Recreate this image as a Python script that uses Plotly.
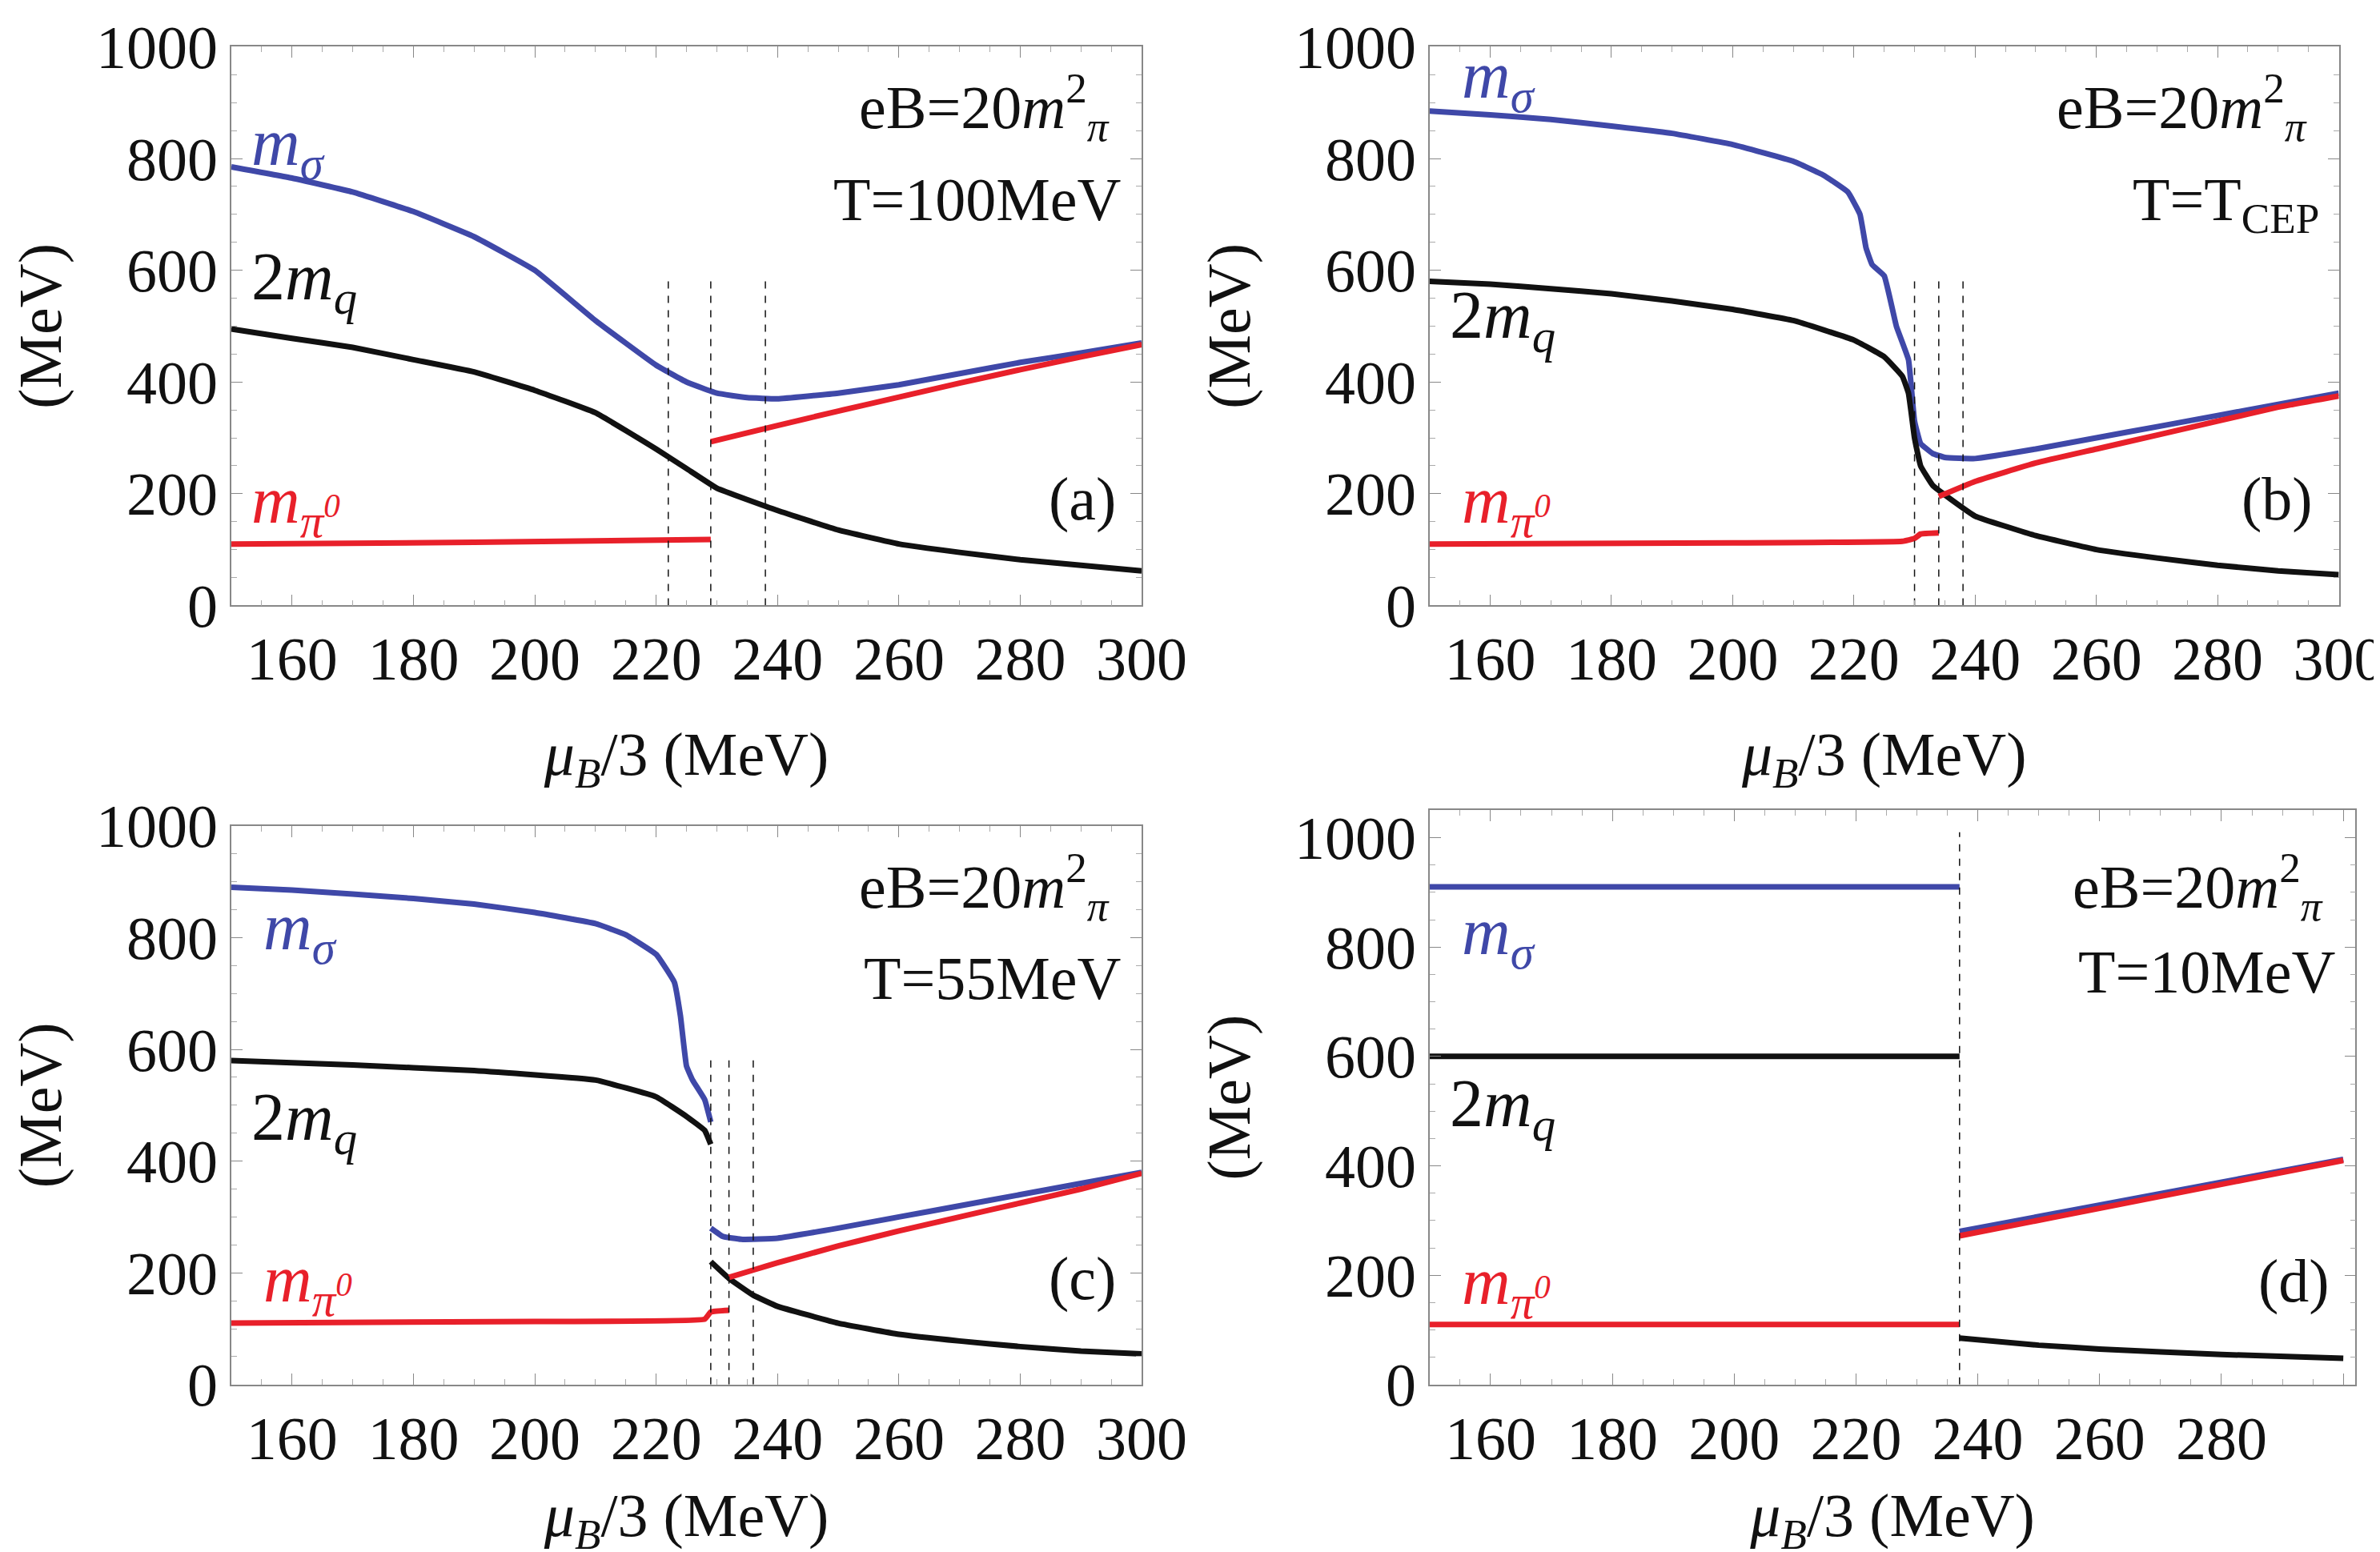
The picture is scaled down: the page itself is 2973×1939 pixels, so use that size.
import plotly.graph_objects as go

# panel (a) T=100MeV
a_sig_x = [150, 160, 170, 180, 190, 200, 210, 220, 225, 230, 235, 240, 250, 260, 270, 280, 290, 300]
a_sig_y = [785, 765, 740, 705, 660, 600, 510, 430, 400, 380, 372, 370, 380, 395, 415, 435, 452, 470]
a_q_x = [150, 160, 170, 180, 190, 200, 210, 220, 225, 230, 240, 250, 260, 270, 280, 290, 300]
a_q_y = [495, 478, 462, 440, 418, 385, 345, 280, 245, 210, 170, 135, 110, 95, 82, 72, 62]
a_pi1_x = [150, 190, 229]
a_pi1_y = [110, 113, 118]
a_pi2_x = [229, 240, 250, 260, 270, 280, 290, 300]
a_pi2_y = [293, 322, 348, 373, 398, 422, 445, 467]
a_dash = [222, 229, 238]

# panel (b) T=T_CEP
b_sig_x = [150, 160, 170, 180, 190, 200, 210, 215, 219, 221, 222, 223, 225, 227, 229, 230, 231, 233, 235, 240, 250, 260, 270, 280, 290, 300]
b_sig_y = [885, 878, 870, 858, 845, 825, 795, 770, 740, 700, 640, 610, 590, 500, 440, 330, 290, 272, 265, 263, 280, 300, 320, 340, 360, 380]
b_q_x = [150, 160, 170, 180, 190, 200, 210, 220, 225, 228, 229, 230, 231, 233, 236, 240, 250, 260, 270, 280, 290, 300]
b_q_y = [580, 575, 567, 558, 545, 530, 510, 475, 445, 410, 380, 300, 250, 215, 190, 160, 125, 100, 85, 72, 62, 55]
b_pi1_x = [150, 200, 228, 230, 231, 234]
b_pi1_y = [110, 112, 115, 120, 128, 130]
b_pi2_x = [234, 240, 250, 260, 270, 280, 290, 300]
b_pi2_y = [195, 222, 255, 280, 305, 330, 355, 375]
b_dash = [230, 234, 238]

# panel (c) T=55MeV
c_sig1_x = [150, 160, 170, 180, 190, 200, 210, 215, 220, 223, 224, 225, 226, 228, 229]
c_sig1_y = [890, 885, 878, 870, 860, 845, 825, 805, 770, 720, 660, 570, 545, 510, 470]
c_sig2_x = [229, 231, 234, 240, 250, 260, 270, 280, 290, 300]
c_sig2_y = [280, 265, 260, 262, 280, 300, 320, 340, 360, 380]
c_q1_x = [150, 170, 190, 210, 220, 225, 228, 229]
c_q1_y = [580, 572, 562, 545, 515, 480, 455, 430]
c_q2_x = [229, 232, 236, 240, 250, 260, 270, 280, 290, 300]
c_q2_y = [220, 190, 160, 140, 110, 90, 78, 68, 60, 55]
c_pi1_x = [150, 200, 228, 229, 232]
c_pi1_y = [110, 113, 117, 130, 133]
c_pi2_x = [232, 236, 240, 250, 260, 270, 280, 290, 300]
c_pi2_y = [192, 205, 218, 248, 275, 300, 325, 350, 378]
c_dash = [229, 232, 236]

# panel (d) T=10MeV
d_sig1_x = [150, 237]
d_sig1_y = [910, 910]
d_sig2_x = [237, 300]
d_sig2_y = [280, 412]
d_q1_x = [150, 237]
d_q1_y = [600, 600]
d_q2_x = [237, 250, 260, 280, 300]
d_q2_y = [85, 72, 65, 55, 48]
d_pi1_x = [150, 237]
d_pi1_y = [110, 110]
d_pi2_x = [237, 300]
d_pi2_y = [272, 410]
d_dash = [237]

BLUE = "#3f48a8"
RED = "#e8202a"
BLACK = "#111111"
FONT = "Liberation Serif"

fig = go.Figure()

panels = [
    dict(ax="", dom_x=[0.0945, 0.477], dom_y=[0.614, 0.974], xr=[150, 300], yr=[0, 1000],
         lines=[(a_sig_x, a_sig_y, BLUE), (a_q_x, a_q_y, BLACK), (a_pi1_x, a_pi1_y, RED), (a_pi2_x, a_pi2_y, RED)],
         dash=a_dash, dtop=580, T="T=100MeV", lab="(a)",
         sig=(153, 820), q=(153, 580), pi=(153, 180)),
    dict(ax="2", dom_x=[0.598, 0.980], dom_y=[0.614, 0.974], xr=[150, 300], yr=[0, 1000],
         lines=[(b_sig_x, b_sig_y, BLUE), (b_q_x, b_q_y, BLACK), (b_pi1_x, b_pi1_y, RED), (b_pi2_x, b_pi2_y, RED)],
         dash=b_dash, dtop=590, T="T=T<sub>CEP</sub>", lab="(b)",
         sig=(155, 940), q=(153, 510), pi=(155, 180)),
    dict(ax="3", dom_x=[0.0945, 0.477], dom_y=[0.112, 0.472], xr=[150, 300], yr=[0, 1000],
         lines=[(c_sig1_x, c_sig1_y, BLUE), (c_sig2_x, c_sig2_y, BLUE), (c_q1_x, c_q1_y, BLACK), (c_q2_x, c_q2_y, BLACK),
                (c_pi1_x, c_pi1_y, RED), (c_pi2_x, c_pi2_y, RED)],
         dash=c_dash, dtop=590, T="T=55MeV", lab="(c)",
         sig=(155, 810), q=(153, 470), pi=(155, 180)),
    dict(ax="4", dom_x=[0.598, 0.987], dom_y=[0.112, 0.482], xr=[150, 302], yr=[0, 1050],
         lines=[(d_sig1_x, d_sig1_y, BLUE), (d_sig2_x, d_sig2_y, BLUE), (d_q1_x, d_q1_y, BLACK), (d_q2_x, d_q2_y, BLACK),
                (d_pi1_x, d_pi1_y, RED), (d_pi2_x, d_pi2_y, RED)],
         dash=d_dash, dtop=1010, T="T=10MeV", lab="(d)",
         sig=(155, 820), q=(153, 505), pi=(155, 180)),
]

for p in panels:
    xa, ya = "x" + p["ax"], "y" + p["ax"]
    for xs, ys, col in p["lines"]:
        fig.add_trace(go.Scatter(x=xs, y=ys, mode="lines", line=dict(color=col, width=7, shape="spline", smoothing=0.3),
                                 xaxis=xa, yaxis=ya, showlegend=False))
    for xd in p["dash"]:
        fig.add_trace(go.Scatter(x=[xd, xd], y=[0, p["dtop"]], mode="lines", line=dict(color=BLACK, width=1.5, dash="dash"),
                                 xaxis=xa, yaxis=ya, showlegend=False))
    axis_common = dict(showgrid=False, zeroline=False, mirror="ticks", showline=True, linecolor="#888", linewidth=1.5,
                       ticks="inside", ticklen=14, tickcolor="#888", automargin=False,
                       tickfont=dict(family=FONT, size=76, color=BLACK),
                       minor=dict(ticks="inside", ticklen=7, tickcolor="#aaa"))
    fig.layout["xaxis" + p["ax"]] = dict(axis_common, domain=p["dom_x"], range=p["xr"], anchor=ya, dtick=20, tick0=160,
                                          title=dict(text="<i>μ<sub>B</sub></i>/3 (MeV)", font=dict(family=FONT, size=76, color=BLACK), standoff=50))
    fig.layout["yaxis" + p["ax"]] = dict(axis_common, domain=p["dom_y"], range=p["yr"], anchor=xa, dtick=200,
                                          title=dict(text="(MeV)", font=dict(family=FONT, size=76, color=BLACK), standoff=30))
    fig.add_annotation(xref=xa, yref=ya, x=p["xr"][1] - 5, y=p["yr"][1] * 0.97 if p["ax"] != "4" else 990,
                       text="eB=20<i>m</i><sup>2</sup><sub><i>π</i></sub>", showarrow=False, xanchor="right", yanchor="top",
                       font=dict(family=FONT, size=76, color=BLACK))
    fig.add_annotation(xref=xa, yref=ya, x=p["xr"][1] - 3, y=p["yr"][1] * 0.79 if p["ax"] != "4" else 820,
                       text=p["T"], showarrow=False, xanchor="right", yanchor="top",
                       font=dict(family=FONT, size=76, color=BLACK))
    fig.add_annotation(xref=xa, yref=ya, x=p["xr"][1] - 4, y=190, text=p["lab"], showarrow=False,
                       xanchor="right", yanchor="middle", font=dict(family=FONT, size=76, color=BLACK))
    fig.add_annotation(xref=xa, yref=ya, x=p["sig"][0], y=p["sig"][1], text="<i>m<sub>σ</sub></i>", showarrow=False,
                       xanchor="left", font=dict(family=FONT, size=84, color=BLUE))
    fig.add_annotation(xref=xa, yref=ya, x=p["q"][0], y=p["q"][1], text="2<i>m<sub>q</sub></i>", showarrow=False,
                       xanchor="left", font=dict(family=FONT, size=84, color=BLACK))
    fig.add_annotation(xref=xa, yref=ya, x=p["pi"][0], y=p["pi"][1], text="<i>m<sub>π<sup>0</sup></sub></i>", showarrow=False,
                       xanchor="left", font=dict(family=FONT, size=84, color=RED))

fig.update_layout(width=2973, height=1939, margin=dict(l=0, r=0, t=0, b=0),
                  paper_bgcolor="white", plot_bgcolor="white")
fig.write_html("out.html")
